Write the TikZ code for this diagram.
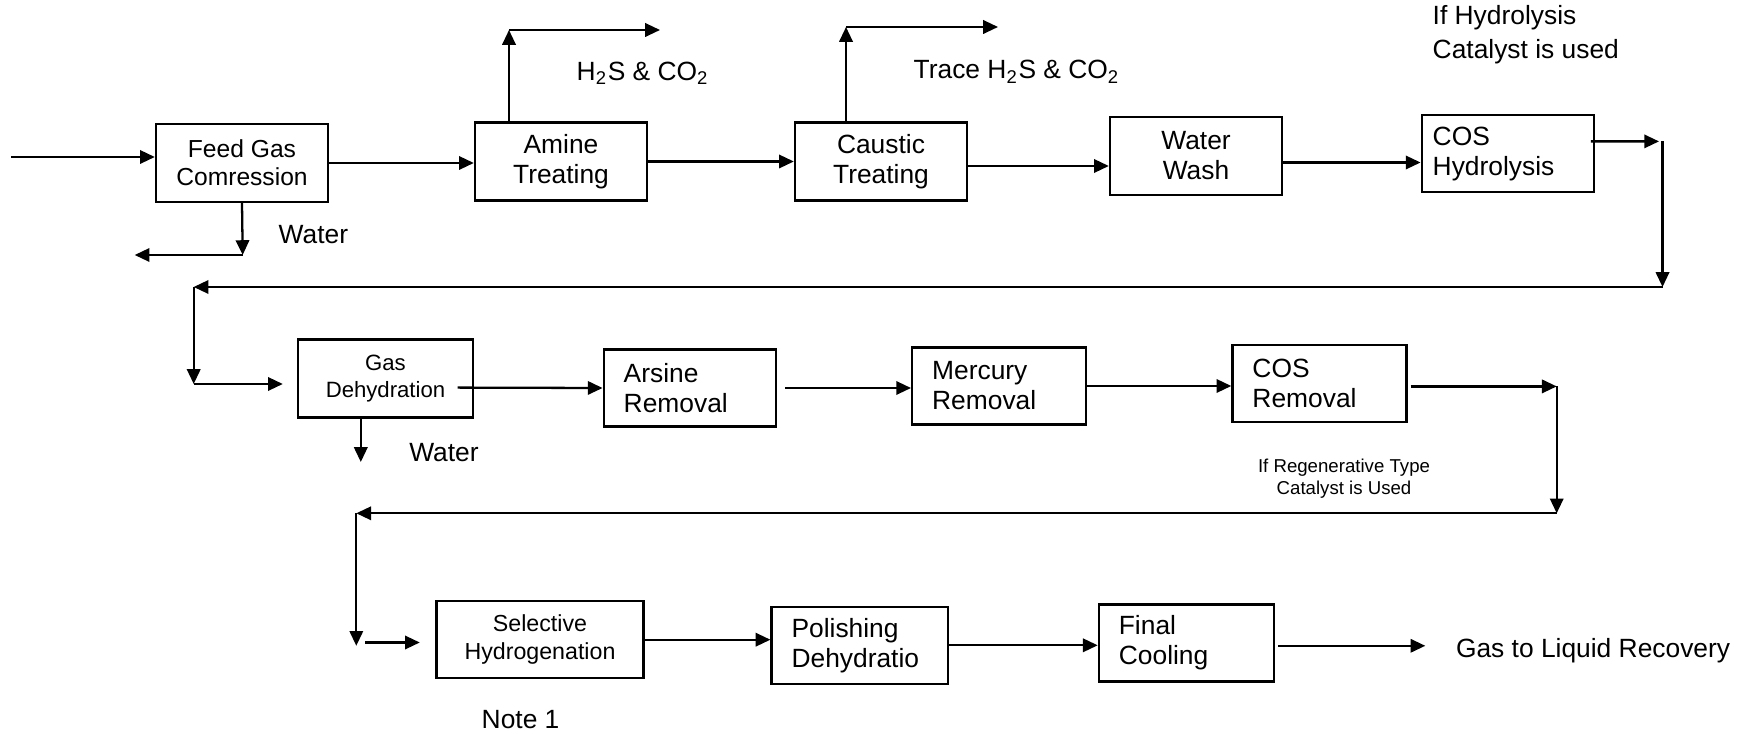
\documentclass[tikz,border=0pt]{standalone}
\usepackage{fontspec}
\setsansfont{Liberation Sans}
\usetikzlibrary{arrows.meta}

\begin{document}
\begin{tikzpicture}[x=0.01cm,y=-0.01cm,every node/.style={font=\sffamily\fontsize{7.5}{8.5}\selectfont},arrow/.style={-{Triangle[length=4.2pt,width=3.8pt]},line width=0.65pt},box/.style={draw,line width=0.65pt,minimum width=1.72cm,minimum height=0.78cm,align=center,inner sep=0pt},lbox/.style={draw,line width=0.65pt,minimum height=0.77cm,align=left,inner xsep=0.2cm,inner ysep=0pt,text width=#1},note/.style={inner sep=0pt,anchor=west}]
\useasboundingbox (0,0) rectangle (1746,734);

% first row
\node[box,font=\sffamily\fontsize{7}{8}\selectfont] (feed) at (242,163) {Feed Gas\\Comression};
\node[box] (amine) at (561,161.5) {Amine\\Treating};
\node[box] (caustic) at (881,161.5) {Caustic\\Treating};
\node[box] (wash) at (1196,156) {Water\\Wash};
\node[lbox=1.505cm,inner xsep=0.11cm] (hydro) at (1508,153.6) {COS\\Hydrolysis};
\coordinate (feedin) at (11,157); \coordinate (feedwater) at (242.7,255); \coordinate (feedwaterout) at (134.7,255);
\coordinate (aminevent) at (509,30); \coordinate (amineout) at (660,30); \coordinate (causticvent) at (846,27); \coordinate (causticout) at (998,27);
\draw[arrow] (feedin) -- (feedin -| feed.west); \draw[arrow] (feed.east) -- (feed.east -| amine.west); \draw[arrow] (amine.east) -- (amine.east -| caustic.west);
\draw[arrow] ([yshift=-0.045cm]caustic.east) -- ([yshift=-0.045cm]caustic.east -| wash.west); \draw[arrow] ([yshift=-0.065cm]wash.east) -- ([yshift=-0.065cm]wash.east -| hydro.west);
\draw[arrow] (aminevent |- amine.north) -- (aminevent); \draw[arrow] (aminevent) -- (amineout);
\draw[arrow] (causticvent |- caustic.north) -- (causticvent); \draw[arrow] (causticvent) -- (causticout);
\draw[arrow] (feed.south) -- (feedwater); \draw[arrow] (feedwater) -- (feedwaterout);
\node[note] (h2s) at (576,73.5) {H\textsubscript{2}S \& CO\textsubscript{2}};
\node[note] (trace) at (913,72) {Trace H\textsubscript{2}S \& CO\textsubscript{2}};
\node[note,align=left] (hydnote) at (1432,34.5) {If Hydrolysis\\[1pt]Catalyst is used};
\node[note] (water1) at (278,235) {Water};

% first return
\coordinate (turnA) at (1662.5,141.4); \coordinate (turnB) at (1662.5,287); \coordinate (turnC) at (193.7,287); \coordinate (turnD) at (193.7,384);
\draw[arrow] ([xshift=-0.045cm,yshift=0.122cm]hydro.east) -- ([xshift=-0.035cm]turnA); \draw[arrow] (turnA) -- (turnB); \draw[arrow] (turnB) -- (turnC); \draw[arrow] (turnC) -- (turnD);

% second row
\node[box,minimum width=1.75cm,font=\sffamily\fontsize{6.3}{7.9}\selectfont] (dehy) at (385.5,378.6) {Gas\\Dehydration};
\node[lbox=1.325cm] (arsine) at (690,388) {Arsine\\Removal};
\node[lbox=1.336cm] (mercury) at (999,386) {Mercury\\Removal};
\node[lbox=1.34cm] (cosrem) at (1319.5,383.6) {COS\\Removal};
\coordinate (dehywater) at (360.8,462);
\draw[arrow] (turnD) -- ([xshift=-0.14cm]turnD -| dehy.west);
\draw[arrow] ([xshift=-0.165cm,yshift=-0.09cm]dehy.east) -- (arsine.west); \draw[arrow] ([xshift=0.08cm]arsine.east) -- (arsine.east -| mercury.west); \draw[arrow] (mercury.east) -- (mercury.east -| cosrem.west);
\draw[arrow] (dehywater |- dehy.south) -- (dehywater);
\node[note] (water2) at (408.6,453) {Water};
\node[align=center,inner sep=0pt,font=\sffamily\fontsize{5.3}{6.3}\selectfont] (regnote) at (1344,479) {If Regenerative Type\\Catalyst is Used};

% second return
\coordinate (turnE) at (1556.7,386.4); \coordinate (turnF) at (1556.7,513.3); \coordinate (turnG) at (356.3,513.3); \coordinate (turnH) at (356.3,645.8);
\draw[arrow] ([xshift=0.03cm]cosrem.east |- turnE) -- (turnE); \draw[arrow] (turnE) -- (turnF); \draw[arrow] (turnF) -- (turnG); \draw[arrow] (turnG) -- (turnH);

% third row
\node[box,minimum width=2.07cm,minimum height=0.77cm,font=\sffamily\fontsize{6.6}{7.9}\selectfont] (selhyd) at (540,639.7) {Selective\\Hydrogenation};
\node[lbox=1.36cm] (polish) at (859.6,645.3) {Polishing\\Dehydratio};
\node[lbox=1.35cm] (final) at (1186.4,643) {Final\\Cooling};
\coordinate (selin) at (365,642.5); \coordinate (gasout) at (1425.3,645.8);
\draw[arrow] (selin) -- ([xshift=-0.155cm]selin -| selhyd.west);
\draw[arrow] (selhyd.east) -- (selhyd.east -| polish.west); \draw[arrow] (polish.east) -- (polish.east -| final.west); \draw[arrow] ([xshift=0.03cm]final.east |- gasout) -- (gasout);
\node[note] (recovery) at (1455.3,650.3) {Gas to Liquid Recovery};
\node[note] (note1) at (481,719.3) {Note 1};

\end{tikzpicture}
\end{document}
